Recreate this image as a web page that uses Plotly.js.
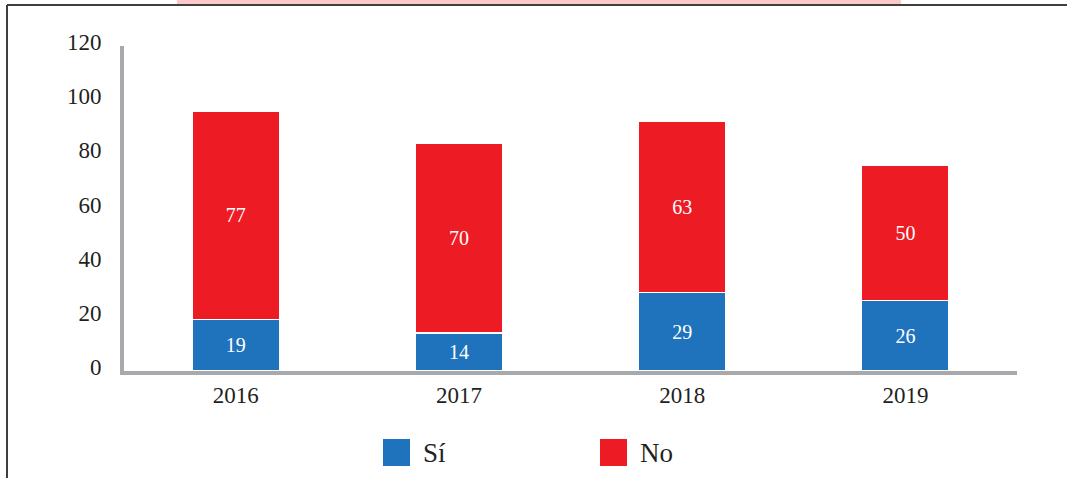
<!DOCTYPE html>
<html>
<head>
<meta charset="utf-8">
<script src="https://cdn.plot.ly/plotly-3.0.1.min.js"></script>
<style>
  html, body { margin: 0; padding: 0; background: #fff; }
  #chart { width: 1067px; height: 478px; }
</style>
</head>
<body>
<div id="chart"></div>
<script>
// data
const years = ['2016', '2017', '2018', '2019'];
const siValues = [19, 14, 29, 26];
const noValues = [77, 70, 63, 50];
const seriesNames = ['Sí', 'No'];
const seriesColors = ['#1f73bc', '#ed1c24'];

const W = 1067, H = 478;
const M = { l: 124, r: 50, t: 46, b: 107 };
const plotW = W - M.l - M.r;
const plotH = H - M.t - M.b;
// pixel -> paper helpers for the hand-drawn legend and frame
const px2x = px => (px - M.l) / plotW;
const px2y = py => (H - M.b - py) / plotH;

const font = 'Liberation Serif, Times New Roman, serif';
const axisGrey = '#a7a9ac';

const traces = [siValues, noValues].map((vals, i) => ({
  x: years,
  y: vals,
  name: seriesNames[i],
  type: 'bar',
  marker: { color: seriesColors[i], line: { color: '#ffffff', width: 1.2 } },
  texttemplate: '%{y}',
  textposition: 'inside',
  insidetextanchor: 'middle',
  textfont: { family: font, size: 20, color: '#ffffff' },
  showlegend: false,
  hoverinfo: 'skip',
}));

// legend drawn by hand so the swatches can be as big as in the picture
const legendSwatches = [383, 600];
const shapes = [];
const annotations = [];
seriesNames.forEach((name, i) => {
  const x0 = legendSwatches[i];
  shapes.push({
    type: 'rect', xref: 'paper', yref: 'paper',
    x0: px2x(x0), x1: px2x(x0 + 27), y0: px2y(439), y1: px2y(466),
    fillcolor: seriesColors[i], line: { width: 0 },
  });
  annotations.push({
    text: name, xref: 'paper', yref: 'paper', showarrow: false,
    x: px2x(x0 + 38), y: px2y(453), xanchor: 'left', yanchor: 'middle',
    font: { family: font, size: 27, color: '#231f20' },
  });
});

// page frame and the pink title strip cut at the top
shapes.push({
  type: 'rect', xref: 'paper', yref: 'paper', layer: 'below',
  x0: px2x(177), x1: px2x(901), y0: px2y(4), y1: px2y(-2),
  fillcolor: '#fcc8c8', line: { width: 0 },
});
shapes.push({
  type: 'line', xref: 'paper', yref: 'paper',
  x0: px2x(7), x1: px2x(1070), y0: px2y(5), y1: px2y(5),
  line: { color: '#3f3f3f', width: 2 },
});
shapes.push({
  type: 'line', xref: 'paper', yref: 'paper',
  x0: px2x(7), x1: px2x(7), y0: px2y(5), y1: px2y(480),
  line: { color: '#3f3f3f', width: 2 },
});

const layout = {
  width: W,
  height: H,
  margin: M,
  paper_bgcolor: '#ffffff',
  plot_bgcolor: '#ffffff',
  barmode: 'stack',
  bargap: 0.61,
  showlegend: false,
  font: { family: font, color: '#231f20' },
  xaxis: {
    type: 'category',
    showline: true, linecolor: axisGrey, linewidth: 4,
    showgrid: false, zeroline: false, ticks: '',
    ticklabelstandoff: 0,
    tickfont: { family: font, size: 23, color: '#231f20' },
  },
  yaxis: {
    range: [0, 120], dtick: 20,
    showline: true, linecolor: axisGrey, linewidth: 4,
    showgrid: false, zeroline: false, ticks: '',
    ticklabelstandoff: 14,
    ticklabelshift: -4,
    tickfont: { family: font, size: 23, color: '#231f20' },
  },
  shapes: shapes,
  annotations: annotations,
};

Plotly.newPlot('chart', traces, layout, { displayModeBar: false, staticPlot: true });
</script>
</body>
</html>
